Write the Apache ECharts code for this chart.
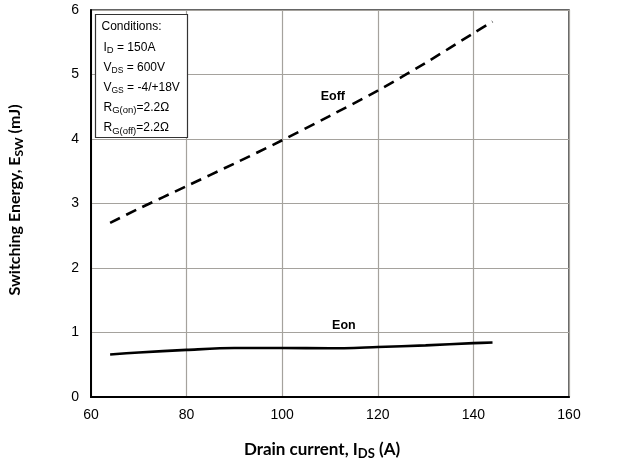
<!DOCTYPE html>
<html>
<head>
<meta charset="utf-8">
<script src="https://cdn.jsdelivr.net/npm/echarts@6/dist/echarts.min.js"></script>
<style>
  html, body { margin: 0; padding: 0; background: #fff; }
  #chart { width: 643px; height: 463px; }
</style>
</head>
<body>
<div id="chart"></div>
<script>
// drain current (A) vs switching energy (mJ)
const eoffPoints = [
  [64, 2.70], [70, 2.92], [80, 3.27], [90, 3.62], [100, 3.98],
  [110, 4.36], [120, 4.75], [130, 5.18], [140, 5.64], [144, 5.82]
]
const eonPoints = [
  [64, 0.66], [70, 0.69], [80, 0.73], [90, 0.76], [100, 0.76],
  [110, 0.755], [120, 0.775], [130, 0.80], [140, 0.835], [144, 0.845]
]
const xTicks = { min: 60, max: 160, step: 20 }
const yTicks = { min: 0, max: 6, step: 1 }
// where the curve names sit, in data units
const eoffLabelAt = [110.6, 4.66]
const eonLabelAt = [112.9, 1.11]

const conditions = [
  '{n|Conditions:}',
  '{n|I}{b|D}{n| = 150A}',
  '{n|V}{s|DS}{n| = 600V}',
  '{n|V}{s|GS}{n| = -4/+18V}',
  '{n|R}{b|G(on)}{n|=2.2Ω}',
  '{n|R}{b|G(off)}{n|=2.2Ω}'
]

const tickFont = { fontFamily: 'Liberation Sans', fontSize: 14, color: '#000' }
const richCond = {
  n: { fontFamily: 'Liberation Sans', fontSize: 12, color: '#000', lineHeight: 16 },
  s: { fontFamily: 'Liberation Sans', fontSize: 8.5, color: '#000', verticalAlign: 'bottom', lineHeight: 16, padding: [5, 0, 0, 0] },
  b: { fontFamily: 'Liberation Sans', fontSize: 9.5, color: '#000', verticalAlign: 'bottom', lineHeight: 16, padding: [3, 0, 0, 0] }
}
function titleRich (size) {
  return {
    t: { fontFamily: 'Lato', fontWeight: 'bold', fontSize: size, color: '#000', lineHeight: 20 },
    s: { fontFamily: 'Lato', fontWeight: 'bold', fontSize: size - 4, color: '#000', verticalAlign: 'bottom', lineHeight: 20, padding: [4, 0, 0, 0] }
  }
}

function curveLabel (name, at) {
  return {
    symbol: 'circle',
    symbolSize: 0,
    data: [{
      coord: at,
      label: {
        show: true,
        position: 'inside',
        formatter: name,
        fontFamily: 'Liberation Sans',
        fontWeight: 'bold',
        fontSize: 12.5,
        color: '#000'
      }
    }]
  }
}

const chart = echarts.init(document.getElementById('chart'))

const option = {
  animation: false,
  backgroundColor: '#fff',
  grid: {
    left: 91,
    right: 74,
    top: 10,
    bottom: 66,
    show: true,
    borderColor: '#333',
    borderWidth: 1.5
  },
  xAxis: {
    type: 'value',
    min: xTicks.min,
    max: xTicks.max,
    interval: xTicks.step,
    axisLine: { show: true, lineStyle: { color: '#000', width: 2 } },
    axisTick: { show: false },
    axisLabel: Object.assign({ margin: 11 }, tickFont),
    splitLine: { show: true, lineStyle: { color: '#a5a29d', width: 1.2 } }
  },
  yAxis: {
    type: 'value',
    min: yTicks.min,
    max: yTicks.max,
    interval: yTicks.step,
    axisLine: { show: true, lineStyle: { color: '#000', width: 2 } },
    axisTick: { show: false },
    axisLabel: Object.assign({ margin: 12 }, tickFont),
    splitLine: { show: true, lineStyle: { color: '#a5a29d', width: 1.2 } }
  },
  series: [
    {
      name: 'Eoff',
      type: 'line',
      data: eoffPoints,
      smooth: 0.3,
      showSymbol: false,
      lineStyle: { color: '#000', width: 2.6, type: [11, 7] },
      markPoint: curveLabel('Eoff', eoffLabelAt)
    },
    {
      name: 'Eon',
      type: 'line',
      data: eonPoints,
      smooth: 0.3,
      showSymbol: false,
      lineStyle: { color: '#000', width: 2.6 },
      markPoint: curveLabel('Eon', eonLabelAt)
    }
  ],
  graphic: [
    {
      type: 'rect',
      shape: { x: 95.5, y: 14.5, width: 92, height: 123 },
      style: { fill: '#fff', stroke: '#333', lineWidth: 1.2 },
      z: 10
    },
    ...conditions.map((line, i) => ({
      type: 'text',
      x: i === 0 ? 101.5 : 103.5,
      y: 27 + i * 20.2,
      z: 11,
      style: { text: line, rich: richCond, verticalAlign: 'middle', align: 'left' }
    })),
    {
      type: 'text',
      x: 322,
      y: 450,
      style: {
        text: '{t|Drain current, I}{s|DS}{t| (A)}',
        rich: titleRich(17),
        align: 'center',
        verticalAlign: 'middle'
      }
    },
    {
      type: 'text',
      x: 15,
      y: 200,
      rotation: Math.PI / 2,
      style: {
        text: '{t|Switching Energy, E}{s|SW}{t| (mJ)}',
        rich: titleRich(16),
        align: 'center',
        verticalAlign: 'middle'
      }
    }
  ]
}

chart.setOption(option)
</script>
</body>
</html>
